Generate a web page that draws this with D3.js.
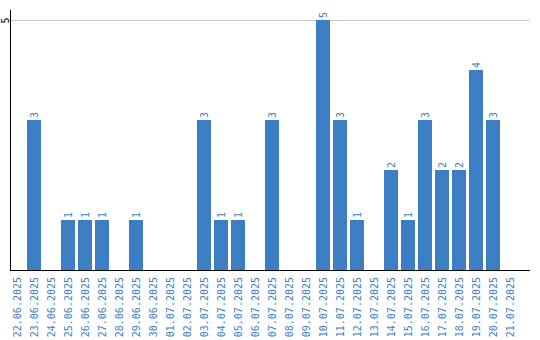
<!DOCTYPE html>
<html>
<head>
<meta charset="utf-8">
<script src="https://cdn.jsdelivr.net/npm/d3@7"></script>
<style>
  body { margin: 0; background: #fff; }
  svg { display: block; }
</style>
</head>
<body>
<div id="chart"></div>
<script>
// data
const dates = ["22.06.2025", "23.06.2025", "24.06.2025", "25.06.2025", "26.06.2025", "27.06.2025",
  "28.06.2025", "29.06.2025", "30.06.2025", "01.07.2025", "02.07.2025", "03.07.2025",
  "04.07.2025", "05.07.2025", "06.07.2025", "07.07.2025", "08.07.2025", "09.07.2025",
  "10.07.2025", "11.07.2025", "12.07.2025", "13.07.2025", "14.07.2025", "15.07.2025",
  "16.07.2025", "17.07.2025", "18.07.2025", "19.07.2025", "20.07.2025", "21.07.2025"];
const counts = [0, 3, 0, 1, 1, 1, 0, 1, 0, 0, 0, 3, 1, 1, 0, 3, 0, 0, 5, 3, 1, 0, 2, 1, 3, 2, 2, 4, 3, 0];
const yTicks = [5];

(function () {
  const width = 540, height = 340;
  const mLeft = 10, mRight = 530, mTop = 10, mBottom = 270;
  const blue = "#3b7ec4";
  const font = "'DejaVu Sans Mono', monospace";

  const data = dates.map((d, i) => ({ date: d, value: counts[i] }));

  const svg = d3.select("#chart").append("svg")
      .attr("width", width)
      .attr("height", height);

  const x = d3.scaleBand()
      .domain(dates)
      .range([mLeft, mLeft + 17 * dates.length - 3])
      .paddingInner(3 / 17)
      .paddingOuter(0);

  const y = d3.scaleLinear()
      .domain([0, 5])
      .range([mBottom, 20]);

  // grid line
  svg.append("g")
    .selectAll("line")
    .data(yTicks)
    .join("line")
      .attr("x1", mLeft)
      .attr("x2", mRight)
      .attr("y1", d => y(d) + 0.5)
      .attr("y2", d => y(d) + 0.5)
      .attr("stroke", "#c8c8c8");

  // bars
  svg.append("g")
    .selectAll("rect")
    .data(data.filter(d => d.value > 0))
    .join("rect")
      .attr("x", d => x(d.date))
      .attr("y", d => y(d.value))
      .attr("width", x.bandwidth())
      .attr("height", d => y(0) - y(d.value))
      .attr("fill", blue);

  // value labels
  svg.append("g")
      .attr("font-family", font)
      .attr("font-size", 10)
      .attr("fill", blue)
    .selectAll("text")
    .data(data.filter(d => d.value > 0))
    .join("text")
      .attr("transform", d => `translate(${x(d.date) + x.bandwidth() / 2},${y(d.value) - 2}) rotate(-90)`)
      .attr("dy", "0.35em")
      .text(d => d.value);

  // y axis
  const yAxis = svg.append("g")
      .attr("transform", `translate(${mLeft + 0.5},0)`)
      .call(d3.axisLeft(y).tickValues(yTicks).tickFormat(d3.format("d")).tickSize(0).tickPadding(0));
  yAxis.select(".domain").remove();
  yAxis.selectAll("text")
      .attr("font-family", font)
      .attr("font-size", 10)
      .attr("fill", "#000")
      .attr("text-anchor", "middle")
      .attr("x", 0)
      .attr("dy", "0.35em")
      .attr("transform", "translate(-5.5,0) rotate(-90)");
  svg.append("line")
      .attr("x1", mLeft + 0.5).attr("x2", mLeft + 0.5)
      .attr("y1", mTop).attr("y2", mBottom)
      .attr("stroke", "#000");

  // x axis
  const xAxis = svg.append("g")
      .attr("transform", `translate(0,${mBottom})`)
      .call(d3.axisBottom(x).tickSize(0).tickPadding(0));
  xAxis.select(".domain").remove();
  xAxis.selectAll("text")
      .attr("font-family", font)
      .attr("font-size", 10)
      .attr("fill", blue)
      .attr("text-anchor", "end")
      .attr("y", 0)
      .attr("dy", "0.35em")
      .attr("transform", "translate(0,7) rotate(-90)");
  svg.append("line")
      .attr("x1", mLeft).attr("x2", mRight)
      .attr("y1", mBottom + 0.5).attr("y2", mBottom + 0.5)
      .attr("stroke", "#000");
})();
</script>
</body>
</html>
